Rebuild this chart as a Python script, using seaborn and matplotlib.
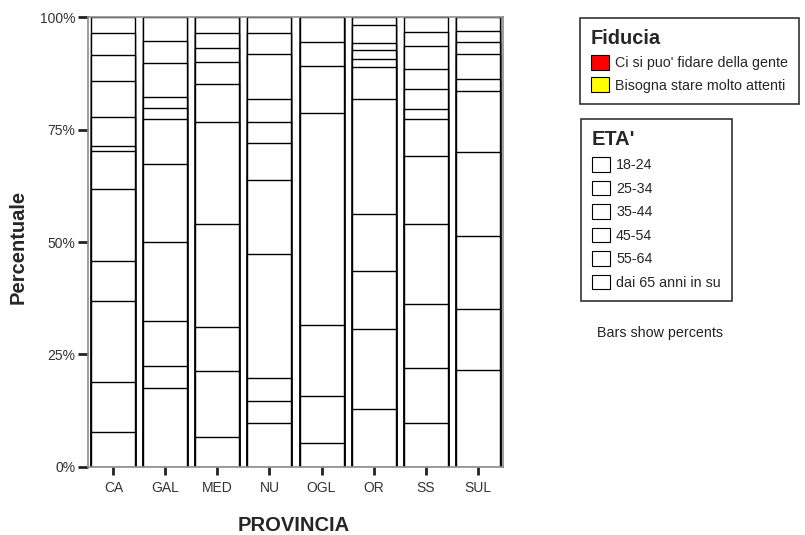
import pandas as pd
import matplotlib
matplotlib.use("Agg")
import matplotlib.pyplot as plt
import seaborn as sns
from matplotlib.patches import Patch

# Stile base
sns.set_style("white")
plt.rcParams['font.family'] = ['Liberation Sans', 'DejaVu Sans']

# Dati
province = ['CA', 'GAL', 'MED', 'NU', 'OGL', 'OR', 'SS', 'SUL']
eta = ['18-24', '25-34', '35-44', '45-54', '55-64', 'dai 65 anni in su']
fiducia = ["Ci si puo' fidare della gente", 'Bisogna stare molto attenti']
fiducia_colori = ['#ff0000', '#ffff00']

# percentuali dei segmenti di ogni barra (dal basso verso l'alto)
seg_ca = [7.8, 11.1, 18.0, 8.9, 16.0, 8.4, 1.1, 6.6, 8.0, 5.6, 5.1, 3.4]
seg_gal = [17.5, 4.9, 10.0, 17.5, 17.4, 10.1, 2.4, 2.5, 7.6, 4.9, 5.2]
seg_med = [6.7, 14.7, 9.6, 23.1, 22.6, 8.5, 4.8, 3.1, 3.5, 3.4]
seg_nu = [9.7, 5.0, 5.1, 27.6, 16.4, 8.3, 4.7, 5.0, 10.0, 4.8, 3.4]
seg_ogl = [5.3, 10.5, 15.8, 47.1, 10.5, 5.3, 5.5]
seg_or = [12.8, 17.9, 12.9, 12.7, 25.5, 7.1, 1.8, 2.0, 1.6, 3.9, 1.8]
seg_ss = [9.7, 12.3, 14.1, 18.0, 15.0, 8.3, 2.2, 4.5, 4.4, 5.2, 3.1, 3.2]
seg_sul = [21.6, 13.6, 16.1, 18.8, 13.6, 2.5, 5.6, 2.7, 2.5, 3.0]

y_ticks = [0, 25, 50, 75, 100]
y_labels = ['0%', '25%', '50%', '75%', '100%']

# Tabella lunga con le percentuali cumulate
n_seg = 12
righe = []
for prov, seg in zip(province, [seg_ca, seg_gal, seg_med, seg_nu,
                                seg_ogl, seg_or, seg_ss, seg_sul]):
    seg = seg + [0.0] * (n_seg - len(seg))
    cum = 0.0
    for k, v in enumerate(seg):
        cum += v
        righe.append({'PROVINCIA': prov, 'Segmento': f's{k:02d}', 'Cumulata': cum})
df = pd.DataFrame(righe)

# Figura
fig = plt.figure(figsize=(8.05, 5.35), dpi=100)
ax = fig.add_axes([88 / 805, 1 - 466.7 / 535, 415 / 805, 449.4 / 535])

# barre sovrapposte: prima la cumulata piu' alta, poi le altre sopra
ordine = [f's{k:02d}' for k in range(n_seg - 1, -1, -1)]
sns.barplot(
    data=df, x='PROVINCIA', y='Cumulata', hue='Segmento', hue_order=ordine,
    order=province, dodge=False, palette=['white'] * n_seg,
    edgecolor='black', linewidth=1.0, width=0.846, errorbar=None,
    legend=False, ax=ax
)

ax.set_xlim(-0.49, 7.49)
ax.set_ylim(0, 100)
ax.set_yticks(y_ticks)
ax.set_yticklabels(y_labels)

for sp in ax.spines.values():
    sp.set_visible(True)
    sp.set_color('#8c8c8c')
    sp.set_linewidth(1.2)

ax.tick_params(axis='y', left=True, length=7, width=2, color='#222222',
               labelsize=10, labelcolor='#333333', pad=2)
ax.tick_params(axis='x', bottom=True, length=6, width=2, color='#222222',
               labelsize=10, labelcolor='#333333', pad=4)

ax.set_xlabel('PROVINCIA', fontsize=14.5, fontweight='bold')
ax.set_ylabel('Percentuale', fontsize=14.5, fontweight='bold')
ax.xaxis.set_label_coords(0.496, -0.11)
ax.yaxis.set_label_coords(-0.145, 0.49)

# Legende
h_fid = [Patch(facecolor=c, edgecolor='black', linewidth=0.8) for c in fiducia_colori]
leg1 = fig.legend(
    h_fid, fiducia, title='Fiducia', loc='upper left',
    bbox_to_anchor=(580 / 805, 1 - 18.3 / 535), borderaxespad=0,
    fontsize=10.3, title_fontproperties={'weight': 'bold', 'size': 14.4},
    alignment='left', handlelength=1.26, handleheight=1.2,
    handletextpad=0.42, labelspacing=0.49, borderpad=0.77,
    fancybox=False, framealpha=1, edgecolor='#333333'
)
leg1.get_frame().set_linewidth(1.2)

h_eta = [Patch(facecolor='white', edgecolor='black', linewidth=0.8) for _ in eta]
leg2 = fig.legend(
    h_eta, eta, title="ETA'", loc='upper left',
    bbox_to_anchor=(581 / 805, 1 - 119 / 535), borderaxespad=0,
    fontsize=10.3, title_fontproperties={'weight': 'bold', 'size': 14.4},
    alignment='left', handlelength=1.26, handleheight=1.2,
    handletextpad=0.42, labelspacing=0.58, borderpad=0.77,
    fancybox=False, framealpha=1, edgecolor='#333333'
)
leg2.get_frame().set_linewidth(1.2)

fig.text(597 / 805, 1 - 333 / 535, 'Bars show percents', fontsize=10.3,
         va='center', ha='left', color='#222222')

fig.savefig('out.png', dpi=100)
plt.close(fig)
